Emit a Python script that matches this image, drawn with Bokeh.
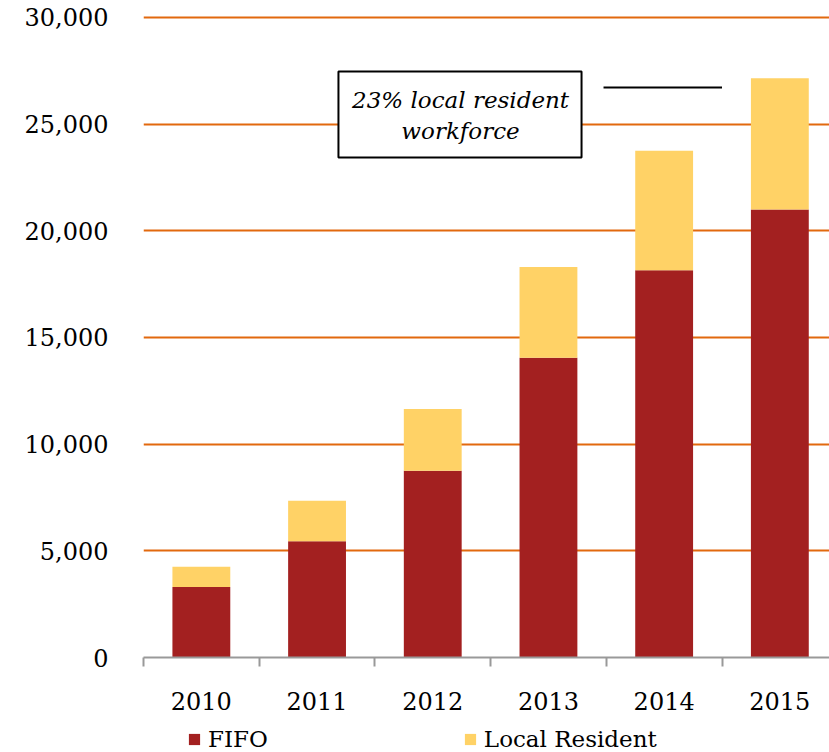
from bokeh.plotting import figure
from bokeh.layouts import column
from bokeh.models import (ColumnDataSource, Range1d, FixedTicker, NumeralTickFormatter,
                          Legend, LegendItem, BoxAnnotation, Label)
from bokeh.embed import file_html
from bokeh.resources import INLINE

years = ["2010", "2011", "2012", "2013", "2014", "2015"]
fifo = [3300, 5450, 8750, 14050, 18150, 21000]
local = [950, 1900, 2900, 4250, 5600, 6150]
y_ticks = [0, 5000, 10000, 15000, 20000, 25000, 30000]
note_lines = ["23% local resident", "workforce"]
series_names = ["FIFO", "Local Resident"]

RED = "#A32020"
YEL = "#FFD266"
ORANGE = "#E2690E"
FONT = "DejaVu Serif"

xs = list(range(len(years)))
total = [f + l for f, l in zip(fifo, local)]
src = ColumnDataSource(dict(x=xs, fifo=fifo, total=total, zero=[0] * len(xs)))

p = figure(width=829, height=722, output_backend="svg", toolbar_location=None,
           x_range=Range1d(-0.5, -0.5 + 686 / 115.7),
           y_range=Range1d(0, 30140),
           min_border_left=143, min_border_right=0, min_border_top=14,
           min_border_bottom=65)
p.outline_line_color = None
p.background_fill_color = "white"
p.border_fill_color = "white"

r1 = p.vbar(x="x", bottom="zero", top="fifo", width=0.5, source=src,
            fill_color=RED, line_color=None)
r2 = p.vbar(x="x", bottom="fifo", top="total", width=0.5, source=src,
            fill_color=YEL, line_color=None)

# axes
xa = p.xaxis[0]
xa.ticker = FixedTicker(ticks=xs, minor_ticks=[i - 0.5 for i in range(len(xs) + 1)])
xa.major_label_overrides = {i: y for i, y in enumerate(years)}
xa.major_tick_out = 0
xa.major_tick_in = 0
xa.minor_tick_out = 9
xa.minor_tick_in = 0
xa.minor_tick_line_color = "#999999"
xa.minor_tick_line_width = 2
xa.axis_line_color = "#999999"
xa.axis_line_width = 2
xa.major_label_standoff = 25
xa.major_label_text_font = FONT
xa.major_label_text_font_size = "24px"
xa.major_label_text_color = "black"

ya = p.yaxis[0]
ya.ticker = FixedTicker(ticks=y_ticks)
ya.formatter = NumeralTickFormatter(format="0,0")
ya.axis_line_color = None
ya.major_tick_line_color = None
ya.minor_tick_line_color = None
ya.major_tick_out = 0
ya.major_label_standoff = 35
ya.major_label_text_font = FONT
ya.major_label_text_font_size = "24px"
ya.major_label_text_color = "black"

p.xgrid.grid_line_color = None
p.ygrid.grid_line_color = ORANGE
p.ygrid.grid_line_width = 2

# annotation box
box = BoxAnnotation(left=1.185, right=3.286, bottom=23440, top=27470,
                    fill_color="white", fill_alpha=1.0,
                    line_color="black", line_alpha=1.0, line_width=2)
p.add_layout(box)
for txt, yy in zip(note_lines, [26110, 24656]):
    p.add_layout(Label(x=2.24, y=yy, text=txt, text_align="center",
                       text_baseline="middle", text_font=FONT,
                       text_font_style="italic", text_font_size="23px",
                       text_color="black"))
p.segment(x0=[3.476], y0=[26720], x1=[4.50], y1=[26720],
          line_color="black", line_width=2)

# legend strip (separate small figure below the chart)
lp = figure(width=829, height=30, output_backend="svg", toolbar_location=None,
            x_axis_type=None, y_axis_type=None,
            x_range=Range1d(0, 1), y_range=Range1d(0, 1),
            min_border=0)
lp.outline_line_color = None
lp.xgrid.grid_line_color = None
lp.ygrid.grid_line_color = None
# placeholder glyphs outside the visible range, used only for legend swatches
lr1 = lp.vbar(x=[10], top=[10], width=0.5, fill_color=RED, line_color=None)
lr2 = lp.vbar(x=[10], top=[10], width=0.5, fill_color=YEL, line_color=None)
legend = Legend(items=[LegendItem(label=series_names[0], renderers=[lr1]),
                       LegendItem(label=series_names[1], renderers=[lr2])],
                orientation="horizontal", location=(44, 0),
                glyph_width=14, glyph_height=14, label_standoff=7,
                spacing=195, padding=0, margin=0,
                label_text_font=FONT, label_text_font_size="23px",
                label_text_color="black", border_line_color=None,
                background_fill_alpha=0)
lp.add_layout(legend, "center")

layout = column(p, lp, spacing=0)
html = file_html(layout, INLINE)
open("out.html", "w").write(html)
